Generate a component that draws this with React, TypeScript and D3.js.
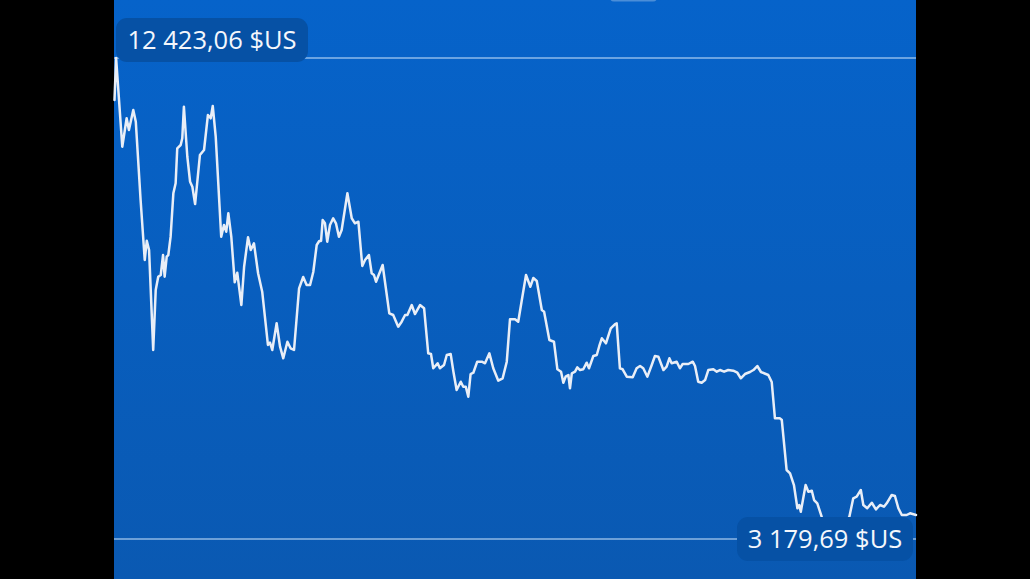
import * as d3 from 'd3';
import React, { useEffect, useRef } from 'react';

// days since start of the window
const days = [
  0, 0.7, 3.4, 5.3, 6.3, 8.2, 9.3, 11.4, 13.2, 14.1, 15.1, 16.9, 18.0, 19.1, 20.2, 21.2, 21.9, 22.8, 23.5, 24.5,
  25.7, 26.7, 27.4, 28.9, 29.6, 30.3, 31.8, 33.0, 34.0, 35.2, 37.3, 39.1, 40.8, 42.0, 42.9, 44.2, 46.6, 47.8, 48.8, 49.7,
  51.0, 52.5, 53.6, 55.4, 56.6, 58.3, 59.5, 60.9, 62.7, 64.5, 67.0, 67.9, 68.9, 70.8, 72.3, 73.7, 75.5, 76.9, 78.4, 80.6,
  82.4, 83.9, 85.4, 86.8, 88.3, 89.4, 90.2, 90.9, 91.9, 92.9, 94.1, 95.5, 96.7, 98.0, 99.2, 101.7, 103.6, 105.0, 106.5, 108.2,
  109.4, 111.1, 112.3, 113.3, 114.2, 117.1, 118.6, 120.0, 121.7, 123.9, 125.4, 126.9, 127.9, 129.8, 131.2, 133.4, 135.2, 137.0, 138.2, 139.2,
  141.1, 142.1, 143.9, 145.1, 146.8, 148.0, 149.4, 151.2, 152.3, 153.4, 154.5, 155.5, 156.7, 158.4, 160.4, 161.8, 163.7, 165.4, 167.6, 169.5,
  171.3, 172.7, 174.9, 176.3, 177.8, 179.7, 181.6, 182.9, 184.4, 186.6, 187.6, 189.9, 191.9, 193.4, 195.0, 196.0, 197.0, 198.2, 198.9, 199.7,
  201.1, 202.1, 203.3, 204.7, 206.2, 207.2, 209.1, 210.6, 211.7, 212.8, 214.6, 216.7, 218.6, 219.3, 220.7, 221.9, 223.7, 226.3, 228.0, 229.5,
  230.9, 232.7, 234.6, 236.0, 237.5, 239.7, 241.1, 242.3, 243.3, 245.5, 246.9, 248.1, 250.6, 252.5, 253.5, 254.9, 256.4, 257.9, 259.3, 261.5,
  263.0, 264.4, 266.2, 268.0, 270.2, 272.0, 273.5, 275.3, 277.5, 279.0, 280.7, 282.3, 285.5, 287.0, 288.4, 290.6, 291.4, 293.5, 295.0, 296.7,
  298.2, 299.0, 299.7, 301.8, 303.0, 304.5, 305.5, 306.9, 308.8, 311.6, 314.6, 317.7, 320.9, 322.6, 324.1, 325.9, 327.0, 328.7, 330.7, 332.5,
  334.3, 336.0, 337.2, 339.4, 340.8, 342.3, 343.8, 345.9, 347.4, 350.0,
];

// price in $US
const prices = [
  11616, 12423.06, 10718, 11264, 11039, 11424, 11199, 9694, 8541, 8912, 8733, 6812, 7965, 8220, 8253, 8637, 8220, 8605, 8637, 8989,
  9823, 10015, 10688, 10751, 10880, 11487, 10526, 10046, 9950, 9617, 10559, 10655, 11328, 11264, 11501, 10911, 8989, 9214, 9085, 9439,
  8989, 8113, 8297, 7676, 8412, 8977, 8733, 8862, 8286, 7932, 6908, 6952, 6812, 7325, 6875, 6652, 6971, 6844, 6812, 7997,
  8215, 8061, 8061, 8311, 8829, 8906, 8906, 9310, 9246, 8893, 9214, 9343, 9246, 8989, 9118, 9823, 9343, 9246, 9277, 8426,
  8541, 8637, 8286, 8253, 8124, 8445, 7965, 7517, 7484, 7259, 7356, 7484, 7484, 7676, 7503, 7676, 7613, 6748, 6735, 6460,
  6556, 6460, 6523, 6716, 6735, 6395, 6043, 6202, 6106, 6106, 5914, 6350, 6375, 6587, 6587, 6556, 6748, 6460, 6222, 6268,
  6587, 7402, 7402, 7356, 7753, 8253, 8028, 8195, 8138, 7580, 7548, 7004, 6971, 6441, 6395, 6183, 6299, 6331, 6076, 6364,
  6395, 6479, 6427, 6441, 6568, 6460, 6696, 6716, 6889, 7037, 6940, 7229, 7311, 7325, 6460, 6441, 6299, 6287, 6460, 6504,
  6460, 6299, 6523, 6696, 6683, 6427, 6491, 6652, 6556, 6587, 6460, 6543, 6543, 6587, 6504, 6202, 6183, 6235, 6427, 6441,
  6395, 6427, 6395, 6427, 6414, 6375, 6268, 6350, 6389, 6427, 6504, 6389, 6331, 6197, 5499, 5499, 5466, 4506, 4442, 4217,
  3770, 3833, 3704, 4217, 4089, 4108, 3929, 3866, 3608, 3353, 3179.69, 3353, 3608, 3962, 3993, 4121, 3833, 3770, 3877, 3750,
  3833, 3800, 3866, 4025, 4006, 3770, 3641, 3641, 3674, 3641,
];

const maxLabel = '12 423,06 $US';
const minLabel = '3 179,69 $US';

const W = 1030;
const H = 579;
const left = 114;
const right = 916;

const App: React.FC = () => {
  const ref = useRef<SVGSVGElement | null>(null);

  useEffect(() => {
    if (!ref.current) return;
    const svg = d3.select(ref.current);
    svg.selectAll('*').remove();

    const data = days.map((d, i) => ({ day: d, price: prices[i] }));
    const maxP = d3.max(prices) ?? 0;
    const minP = d3.min(prices) ?? 0;

    const x = d3.scaleLinear().domain([0, d3.max(days) ?? 0]).range([left + 0.5, right]);
    const y = d3.scaleLinear().domain([minP, maxP]).range([539, 58]);

    const defs = svg.append('defs');
    const grad = defs.append('linearGradient')
      .attr('id', 'bg')
      .attr('x1', 0).attr('y1', 0).attr('x2', 0).attr('y2', 1);
    grad.append('stop').attr('offset', '0%').attr('stop-color', '#0663ca');
    grad.append('stop').attr('offset', '100%').attr('stop-color', '#0a59b2');

    svg.append('rect').attr('width', W).attr('height', H).attr('fill', '#000');
    svg.append('rect')
      .attr('x', left).attr('y', 0)
      .attr('width', right - left).attr('height', H)
      .attr('fill', 'url(#bg)');

    // small tab peeking in at the top
    svg.append('rect')
      .attr('x', 610).attr('y', -8).attr('width', 47).attr('height', 9.5).attr('rx', 4)
      .attr('fill', 'rgba(255,255,255,0.28)');

    // reference lines for max / min
    [maxP, minP].forEach(v => {
      svg.append('line')
        .attr('x1', left).attr('x2', right)
        .attr('y1', y(v)).attr('y2', y(v))
        .attr('stroke', 'rgba(200,225,250,0.7)').attr('stroke-width', 1.6);
    });

    const line = d3.line<{ day: number; price: number }>()
      .x(d => x(d.day))
      .y(d => y(d.price));

    svg.append('path')
      .datum(data)
      .attr('d', line)
      .attr('fill', 'none')
      .attr('stroke', '#e9eef7')
      .attr('stroke-width', 2.5)
      .attr('stroke-linejoin', 'round')
      .attr('stroke-linecap', 'round');

    const drawLabel = (text: string, bx: number, by: number, bw: number) => {
      const g = svg.append('g');
      g.append('rect')
        .attr('x', bx).attr('y', by).attr('width', bw).attr('height', 44).attr('rx', 11)
        .attr('fill', '#0651a5');
      g.append('text')
        .attr('x', bx + bw / 2).attr('y', by + 30.5)
        .attr('text-anchor', 'middle')
        .attr('fill', '#f4f7fc')
        .attr('font-family', '"Open Sans", sans-serif')
        .attr('font-size', 25.5)
        .text(text);
    };

    drawLabel(maxLabel, 116, y(maxP) - 40, 192);
    drawLabel(minLabel, 737, y(minP) - 22, 176);
  }, []);

  return (
    <svg
      ref={ref}
      width={W}
      height={H}
      style={{ position: 'absolute', left: 0, top: 0, display: 'block' }}
    />
  );
};

export default App;
